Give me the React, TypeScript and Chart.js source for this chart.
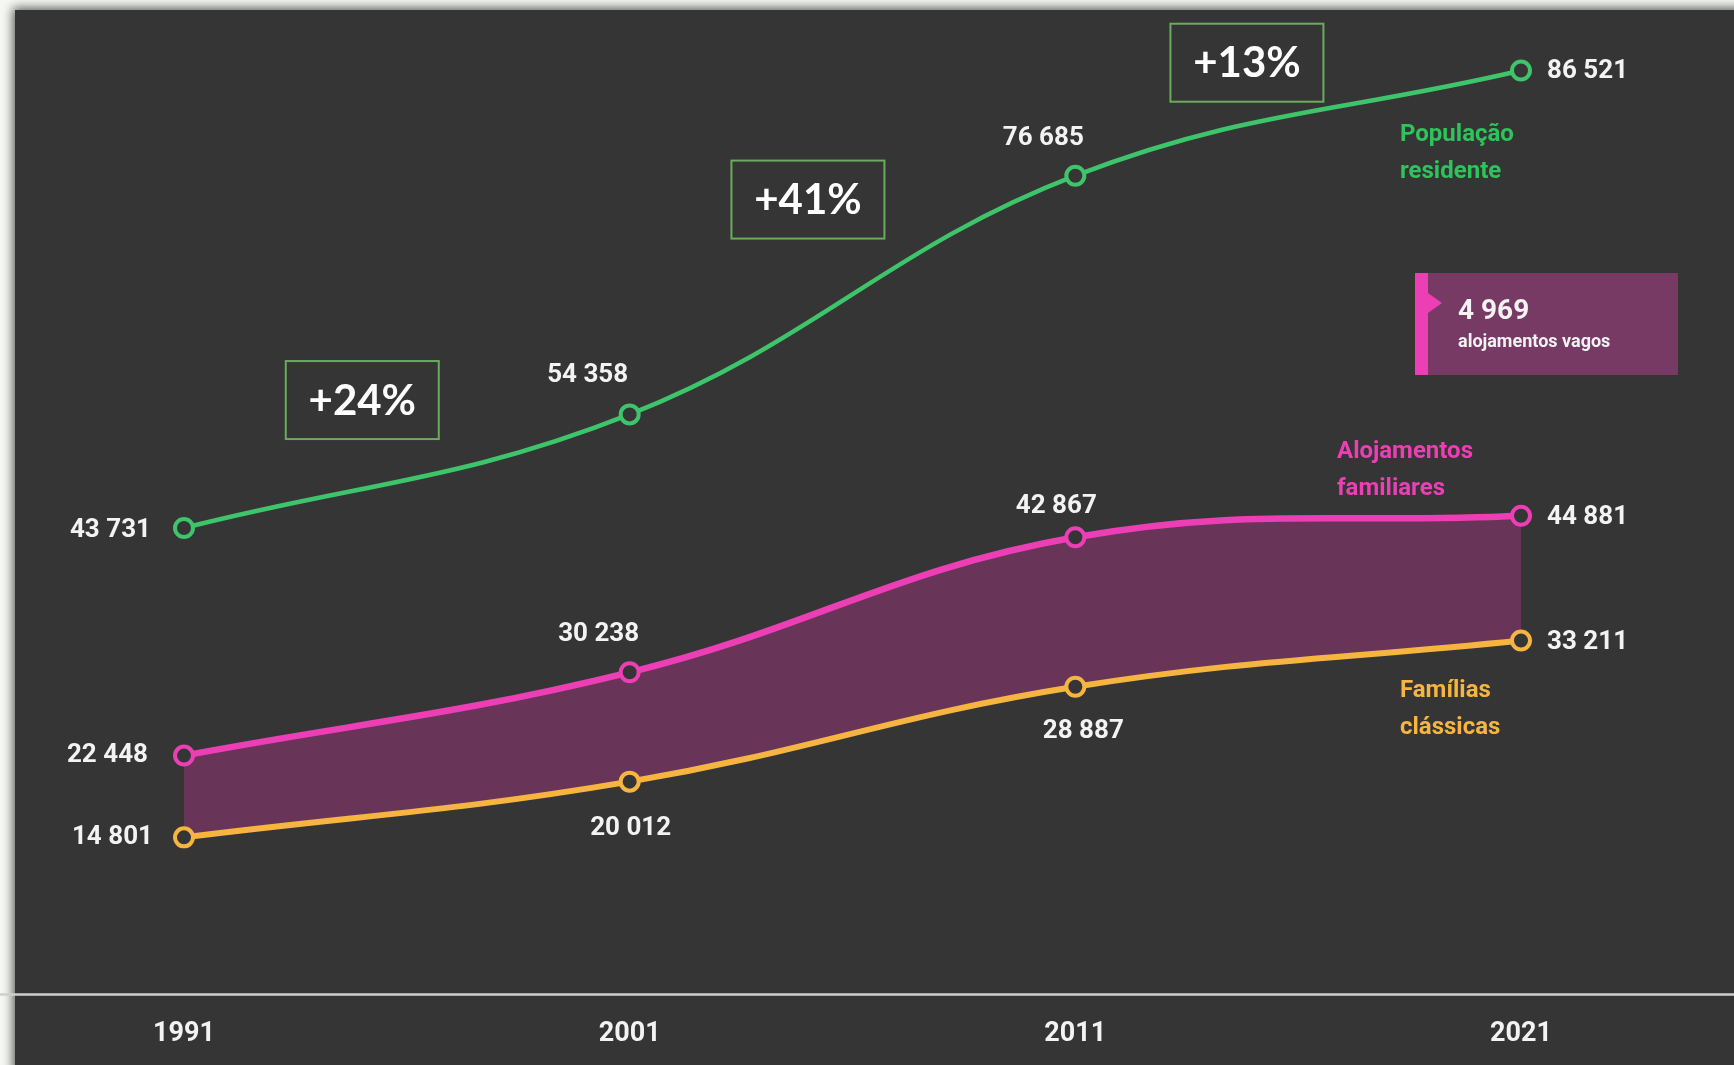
import React, { useEffect, useRef } from "react";
import { Chart, registerables } from "chart.js";

Chart.register(...registerables);

// ---------- data ----------
const years = ["1991", "2001", "2011", "2021"];
const populacaoResidente = [43731, 54358, 76685, 86521];
const alojamentosFamiliares = [22448, 30238, 42867, 44881];
const familiasClassicas = [14801, 20012, 28887, 33211];
const growthLabels = ["+24%", "+41%", "+13%"];
const alojamentosVagos = 4969;
const vacantText = "alojamentos vagos";
const seriesNames = [
  ["População", "residente"],
  ["Alojamentos", "familiares"],
  ["Famílias", "clássicas"],
];

// ---------- styling ----------
const PANEL = "#353535";
const GREEN = "#3ec56b";
const GREEN_TEXT = "#2fc35c";
const PINK = "#ec3fb5";
const ORANGE = "#f6b540";
const FILL = "#683458";
const BOX_FILL = "#763a64";
const WHITE = "#f3f3f3";
const FONT = "Roboto, 'Noto Sans', sans-serif";

const fmt = (v: number) => {
  const t = Math.floor(v / 1000);
  const r = v % 1000;
  return t > 0 ? `${t} ${String(r).padStart(3, "0")}` : String(r);
};

// label placement per dataset per point: [align, dx, dy]
const valuePlacement: [CanvasTextAlign, number, number][][] = [
  [["right", -33, 2], ["center", -42, -39], ["center", -32, -37], ["left", 26, 1]],
  [["right", -36, 0], ["center", -31, -38], ["center", -19, -31], ["left", 26, 2]],
  [["right", -31, 0], ["center", 1, 47], ["center", 8, 45], ["left", 26, 2]],
];
// series name placement relative to last point: [dx, dy first line]
const namePlacement: [number, number][] = [
  [-121, 64],
  [-184, -64],
  [-121, 50],
];
const NAME_COLORS = [GREEN_TEXT, PINK, ORANGE];
// growth boxes: fraction between categories, y anchor in value units
const growthFrac = [0.4, 0.4, 0.385];
const growthY = [55700, 74450, 87250];

const panelPlugin = {
  id: "panel",
  beforeDraw(chart: any) {
    const { ctx, width, height } = chart;
    ctx.save();
    ctx.fillStyle = "#f6f8f4";
    ctx.fillRect(0, 0, width, height);
    ctx.shadowColor = "rgba(0,0,0,0.65)";
    ctx.shadowBlur = 10;
    ctx.shadowOffsetX = -2;
    ctx.shadowOffsetY = -2;
    ctx.fillStyle = PANEL;
    ctx.fillRect(15, 10, width, height);
    ctx.restore();
  },
  beforeDatasetsDraw(chart: any) {
    const { ctx, width, chartArea } = chart;
    ctx.save();
    ctx.strokeStyle = "#cfcfcf";
    ctx.lineWidth = 2.5;
    ctx.beginPath();
    ctx.moveTo(0, chartArea.bottom - 1);
    ctx.lineTo(width, chartArea.bottom - 1);
    ctx.stroke();
    ctx.restore();
  },
};

const labelPlugin = {
  id: "labels",
  afterDatasetsDraw(chart: any) {
    const { ctx } = chart;
    const xs = chart.scales.x;
    const ys = chart.scales.y;
    ctx.save();
    ctx.textBaseline = "middle";

    // value labels
    ctx.font = `bold 26px ${FONT}`;
    ctx.fillStyle = WHITE;
    chart.data.datasets.forEach((ds: any, i: number) => {
      const meta = chart.getDatasetMeta(i);
      meta.data.forEach((pt: any, j: number) => {
        const [align, dx, dy] = valuePlacement[i][j];
        ctx.textAlign = align;
        ctx.fillText(fmt(ds.data[j]), pt.x + dx, pt.y + dy);
      });
    });

    // series names
    ctx.font = `bold 24px ${FONT}`;
    ctx.textAlign = "left";
    chart.data.datasets.forEach((ds: any, i: number) => {
      const meta = chart.getDatasetMeta(i);
      const last = meta.data[meta.data.length - 1];
      const [dx, dy] = namePlacement[i];
      ctx.fillStyle = NAME_COLORS[i];
      seriesNames[i].forEach((line, k) => {
        ctx.fillText(line, last.x + dx, last.y + dy + k * 37);
      });
    });

    // growth boxes
    growthLabels.forEach((txt, i) => {
      const x0 = xs.getPixelForValue(i);
      const x1 = xs.getPixelForValue(i + 1);
      const cx = x0 + growthFrac[i] * (x1 - x0);
      const cy = ys.getPixelForValue(growthY[i]);
      const w = 153;
      const h = 78;
      ctx.strokeStyle = "#6aab5c";
      ctx.lineWidth = 2;
      ctx.strokeRect(cx - w / 2, cy - h / 2, w, h);
      ctx.fillStyle = "#ffffff";
      ctx.font = `bold 42px Lato, 'Open Sans', sans-serif`;
      ctx.textAlign = "center";
      ctx.fillText(txt, cx, cy + 1);
    });

    // vacant dwellings box
    const bx = xs.getPixelForValue(3) - 106;
    const by = 273;
    const bw = 263;
    const bh = 102;
    ctx.fillStyle = BOX_FILL;
    ctx.fillRect(bx, by, bw, bh);
    ctx.fillStyle = PINK;
    ctx.fillRect(bx, by, 13, bh);
    ctx.beginPath();
    ctx.moveTo(bx + 13, by + 20);
    ctx.lineTo(bx + 27, by + 30);
    ctx.lineTo(bx + 13, by + 40);
    ctx.closePath();
    ctx.fill();
    ctx.fillStyle = WHITE;
    ctx.textAlign = "left";
    ctx.font = `bold 28px ${FONT}`;
    ctx.fillText(fmt(alojamentosVagos), bx + 43, by + 39);
    ctx.font = `bold 18px ${FONT}`;
    ctx.fillText(vacantText, bx + 43, by + 69);

    ctx.restore();
  },
};

export default function App() {
  const ref = useRef<HTMLCanvasElement | null>(null);

  useEffect(() => {
    if (!ref.current) return;
    const common = {
      tension: 0.4,
      pointRadius: 9,
      pointBorderWidth: 4,
      pointBackgroundColor: PANEL,
      clip: false as any,
    };
    const chart = new Chart(ref.current, {
      type: "line",
      data: {
        labels: years,
        datasets: [
          {
            ...common,
            label: "População residente",
            data: populacaoResidente,
            borderColor: GREEN,
            pointBorderColor: GREEN,
            borderWidth: 4.5,
            fill: false,
          },
          {
            ...common,
            label: "Alojamentos familiares",
            data: alojamentosFamiliares,
            borderColor: PINK,
            pointBorderColor: PINK,
            borderWidth: 6.5,
            fill: "+1",
            backgroundColor: FILL,
          },
          {
            ...common,
            label: "Famílias clássicas",
            data: familiasClassicas,
            borderColor: ORANGE,
            pointBorderColor: ORANGE,
            borderWidth: 6,
            fill: false,
          },
        ],
      },
      options: {
        responsive: false,
        animation: false,
        devicePixelRatio: 1,
        layout: { padding: { left: 184, right: 213, top: 2, bottom: -7 } },
        plugins: {
          legend: { display: false },
          tooltip: { enabled: false },
          filler: { drawTime: "beforeDatasetsDraw" } as any,
        },
        scales: {
          x: {
            type: "category",
            offset: false,
            grid: { display: false, drawTicks: false },
            border: { display: false },
            ticks: {
              color: WHITE,
              font: { family: FONT, size: 27, weight: "bold" },
              padding: 22,
              maxRotation: 0,
              autoSkip: false,
            },
          },
          y: { display: false, min: 0, max: 91900 },
        },
      },
      plugins: [panelPlugin, labelPlugin],
    });
    return () => chart.destroy();
  }, []);

  return (
    <div style={{ position: "absolute", left: 0, top: 0, width: 1734, height: 1065 }}>
      <canvas ref={ref} width={1734} height={1065} style={{ display: "block" }} />
    </div>
  );
}
